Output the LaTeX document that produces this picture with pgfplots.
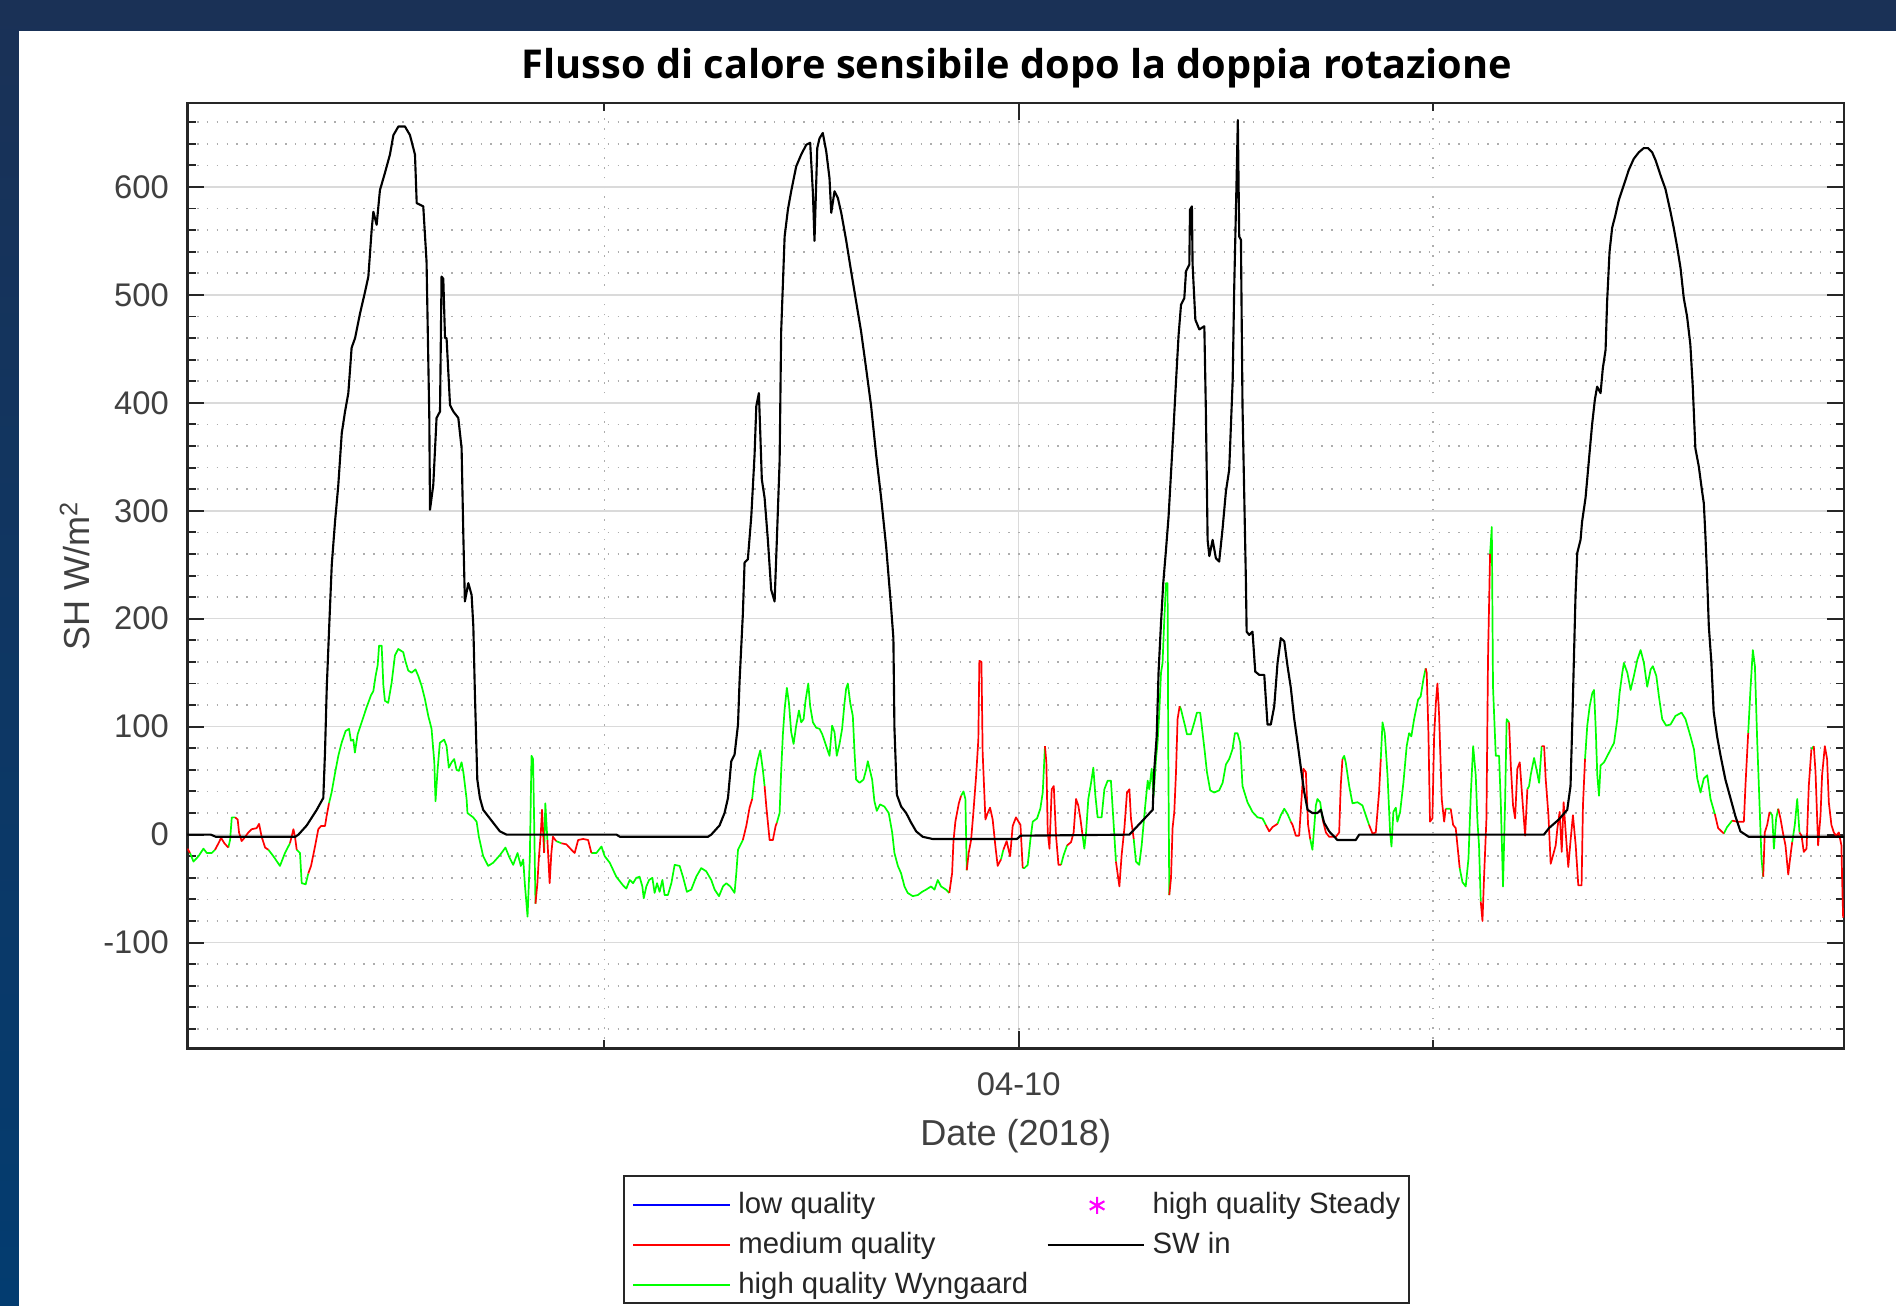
\documentclass[border=0pt]{standalone}
\usepackage{fontspec}
\setmainfont{Liberation Sans}
\newfontfamily\titlefont{Open Sans}
\usepackage{pgfplots}
\pgfplotsset{compat=1.18}
\definecolor{navytop}{HTML}{1A3156}
\definecolor{navybot}{HTML}{033C70}
\definecolor{axgray}{HTML}{262626}
\definecolor{tickgray}{HTML}{404040}
\definecolor{majgrid}{HTML}{DADADA}
\definecolor{mingrid}{HTML}{ADADAD}
\definecolor{mgreen}{RGB}{0,255,0}
\definecolor{mred}{RGB}{255,0,0}
\definecolor{mblue}{RGB}{0,0,255}
\definecolor{mmag}{RGB}{255,0,255}
\pgfplotsset{
  legend image code/.code={\draw[mark repeat=2,mark phase=2,#1] plot coordinates {(0cm,0.7mm) (0.41cm,0.7mm) (0.8cm,0.7mm)};},
}
\begin{document}
\begin{tikzpicture}[x=1cm,y=1cm]
\useasboundingbox (0,0) rectangle (15.68,10.80);
\begin{scope}
\clip (0,0) rectangle (15.68,10.80);
\shade[top color=navytop, bottom color=navybot] (0,0) rectangle (15.68,10.80);
\fill[white] (0.16,0) rectangle (15.68,10.54);
\node[font=\titlefont\bfseries\fontsize{9.35}{11}\selectfont, text=black] at (8.41,10.24) {Flusso di calore sensibile dopo la doppia rotazione};
\begin{axis}[
  at={(1.55cm,2.13cm)}, anchor=south west,
  scale only axis, width=13.70cm, height=7.82cm,
  xmin=-0.15, xmax=95.8, ymin=-198, ymax=678,
  xtick={48}, xticklabels={04-10},
  minor xtick={24,72},
  ytick={-100,0,100,200,300,400,500,600},
  yticklabels={-100,0,100,200,300,400,500,600},
  minor ytick={-180,-160,-140,-120,-80,-60,-40,-20,20,40,60,80,120,140,160,180,220,240,260,280,320,340,360,380,420,440,460,480,520,540,560,580,620,640,660},
  grid=both,
  major grid style={majgrid, line width=0.35pt},
  minor grid style={mingrid, line width=0.4pt, dash pattern=on 0.35pt off 1.95pt},
  tick align=inside,
  major tick length=1.4mm, minor tick length=0.7mm,
  tick style={axgray, line width=0.45pt},
  axis line style={axgray, line width=0.55pt},
  ticklabel style={font=\fontsize{7.7}{9}\selectfont, text=tickgray},
  yticklabel style={xshift=-0.3mm},
  xticklabel style={yshift=-0.8mm},
  xlabel={Date (2018)}, ylabel={SH W/m\textsuperscript{2}},
  label style={font=\fontsize{8.5}{10}\selectfont, text=tickgray},
  xlabel style={at={(axis description cs:0.5,-0.093)}, anchor=center},
  ylabel style={at={(axis description cs:-0.068,0.5)}, anchor=center},
  unbounded coords=jump,
  legend columns=2,
  legend cell align=left,
  legend style={
    at={(axis description cs:0.2628,-0.1343)}, anchor=north west,
    draw=axgray, line width=0.5pt, fill=white,
    font=\fontsize{6.9}{8.3}\selectfont, text=axgray,
    inner xsep=0.7mm, inner ysep=0.7mm,
    row sep=0.8mm,
    nodes={inner sep=0pt, text height=2.4mm, text depth=0.1mm, anchor=base west},
    /tikz/every odd column/.append style={column sep=0.6mm},
    /tikz/every even column/.append style={column sep=1.5mm},
  },
]
% high quality Wyngaard (green)
\addplot[forget plot, mgreen, line width=0.4pt, line join=round] coordinates {
(0.0,-17) (0.20,-25) (0.49,-20) (0.78,-13) (0.97,-17) (1.26,-17) (1.45,-14) (1.45,nan)
(2.22,-12) (2.32,-5) (2.42,16) (2.61,16) (2.61,nan)
(4.54,-14) (4.83,-20) (5.21,-29) (5.50,-17) (5.79,-8) (5.79,nan)
(6.18,-14) (6.37,-17) (6.47,-45) (6.70,-46) (6.85,-36) (6.85,nan)
(8.05,29) (8.20,39) (8.40,57) (8.59,73) (8.78,85) (9.01,96) (9.21,98) (9.32,87) (9.46,88) (9.55,76) (9.71,93) (9.94,104) (10.23,118) (10.48,129) (10.62,133) (10.75,147) (10.87,157) (10.95,175) (11.10,175) (11.20,138) (11.29,124) (11.48,122) (11.68,141) (11.87,166) (12.06,172) (12.35,169) (12.49,160) (12.64,152) (12.83,150) (13.06,153) (13.22,147) (13.41,138) (13.60,126) (13.80,110) (13.99,98) (14.15,67) (14.22,31) (14.34,60) (14.47,85) (14.72,88) (14.86,82) (14.99,62) (15.15,67) (15.30,70) (15.44,60) (15.57,59) (15.73,67) (15.84,57) (16.02,33) (16.07,20) (16.40,16) (16.60,12) (16.73,-2) (16.98,-20) (17.27,-29) (17.56,-26) (17.95,-19) (18.27,-12) (18.47,-20) (18.72,-28) (18.97,-17) (19.16,-29) (19.30,-23) (19.39,-45) (19.55,-76) (19.68,-23) (19.78,73) (19.87,70) (19.93,14) (20.01,-64) (20.01,nan)
(20.51,-17) (20.58,29) (20.70,-5) (20.70,nan)
(21.21,-6) (21.51,-8) (21.51,nan)
(23.25,-17) (23.54,-17) (23.83,-11) (24.02,-20) (24.31,-26) (24.69,-39) (25.08,-47) (25.27,-50) (25.47,-42) (25.66,-45) (25.85,-40) (26.04,-39) (26.20,-48) (26.28,-59) (26.43,-48) (26.59,-42) (26.78,-40) (26.91,-54) (27.05,-45) (27.20,-53) (27.36,-42) (27.49,-56) (27.68,-56) (27.88,-45) (28.07,-28) (28.36,-29) (28.55,-39) (28.78,-53) (29.03,-51) (29.32,-39) (29.61,-31) (29.90,-34) (30.19,-42) (30.39,-51) (30.64,-57) (30.87,-48) (31.06,-45) (31.29,-48) (31.54,-54) (31.64,-36) (31.74,-14) (31.93,-8) (32.02,-5) (32.02,nan)
(32.56,33) (32.70,54) (32.89,70) (33.03,78) (33.18,60) (33.28,45) (33.28,nan)
(33.99,11) (34.15,20) (34.24,59) (34.34,93) (34.44,116) (34.57,136) (34.69,122) (34.82,95) (34.96,84) (35.11,101) (35.27,115) (35.40,104) (35.54,107) (35.65,124) (35.81,140) (35.92,119) (36.08,104) (36.27,99) (36.46,98) (36.62,93) (36.85,82) (37.04,73) (37.19,101) (37.33,95) (37.46,73) (37.62,84) (37.77,98) (37.91,122) (38.00,135) (38.10,140) (38.24,122) (38.39,110) (38.49,76) (38.58,51) (38.78,48) (39.01,51) (39.16,60) (39.26,68) (39.39,59) (39.51,51) (39.64,31) (39.78,22) (39.97,28) (40.22,26) (40.47,20) (40.67,2) (40.80,-17) (41.00,-29) (41.19,-36) (41.38,-48) (41.57,-54) (41.86,-57) (42.15,-56) (42.40,-53) (42.63,-51) (42.92,-48) (43.12,-51) (43.31,-42) (43.50,-48) (43.79,-51) (43.98,-54) (43.98,nan)
(44.66,36) (44.80,40) (44.91,33) (44.99,-33) (44.99,nan)
(46.97,-23) (47.11,-14) (47.11,nan)
(48.23,-31) (48.33,-31) (48.52,-28) (48.68,-4) (48.81,12) (49.06,15) (49.25,24) (49.39,39) (49.52,82) (49.52,nan)
(50.45,-28) (50.60,-19) (50.80,-10) (50.80,nan)
(51.70,-1) (51.80,-13) (51.90,2) (52.03,33) (52.19,48) (52.32,62) (52.44,36) (52.57,16) (52.80,16) (52.96,42) (53.15,50) (53.34,50) (53.50,9) (53.63,-25) (53.63,nan)
(54.66,-4) (54.79,-25) (54.98,-28) (55.12,-10) (55.31,24) (55.47,50) (55.56,42) (55.70,61) (55.81,36) (55.95,70) (56.04,85) (56.14,113) (56.24,150) (56.33,159) (56.43,199) (56.53,233) (56.62,233) (56.66,82) (56.72,-56) (56.72,nan)
(57.32,119) (57.40,116) (57.49,110) (57.63,101) (57.74,93) (57.97,93) (58.17,104) (58.32,113) (58.51,113) (58.65,94) (58.78,76) (58.90,58) (59.09,41) (59.32,39) (59.61,41) (59.81,48) (60.00,65) (60.19,70) (60.38,79) (60.52,94) (60.67,94) (60.83,85) (60.96,45) (61.25,30) (61.54,21) (61.83,16) (62.12,15) (62.31,9) (62.31,nan)
(62.99,10) (63.18,18) (63.38,24) (63.57,19) (63.76,12) (63.76,nan)
(64.88,-4) (65.01,-14) (65.11,6) (65.21,27) (65.30,33) (65.46,30) (65.59,15) (65.59,nan)
(66.75,70) (66.85,73) (66.94,67) (67.14,45) (67.33,29) (67.62,30) (67.91,27) (68.10,18) (68.29,9) (68.29,nan)
(68.97,70) (69.07,104) (69.20,94) (69.36,55) (69.51,2) (69.59,-11) (69.70,21) (69.84,25) (69.93,12) (70.09,21) (70.28,48) (70.47,82) (70.61,94) (70.74,91) (70.90,107) (71.13,125) (71.28,128) (71.44,144) (71.57,154) (71.57,nan)
(72.73,24) (72.83,24) (73.02,24) (73.02,nan)
(73.54,-31) (73.70,-44) (73.89,-48) (74.05,-22) (74.18,36) (74.32,82) (74.47,55) (74.57,12) (74.66,-10) (74.76,-62) (74.76,nan)
(75.30,260) (75.40,285) (75.47,137) (75.63,73) (75.82,73) (75.92,30) (76.05,-48) (76.17,30) (76.26,107) (76.40,104) (76.40,nan)
(77.46,42) (77.56,45) (77.65,55) (77.85,71) (77.98,61) (78.14,48) (78.29,82) (78.29,nan)
(80.80,70) (80.93,101) (81.07,119) (81.22,131) (81.32,134) (81.42,98) (81.51,55) (81.61,36) (81.70,64) (81.90,67) (82.19,76) (82.48,85) (82.67,107) (82.80,131) (82.96,150) (83.05,159) (83.25,150) (83.44,134) (83.63,147) (83.83,162) (84.02,171) (84.21,159) (84.40,137) (84.60,153) (84.73,156) (84.93,147) (85.08,128) (85.27,107) (85.50,101) (85.75,102) (86.04,110) (86.39,113) (86.62,107) (86.91,91) (87.11,79) (87.30,52) (87.49,39) (87.68,52) (87.88,55) (88.07,33) (88.32,19) (88.32,nan)
(88.84,1) (89.03,7) (89.32,13) (89.32,nan)
(90.25,94) (90.39,137) (90.52,171) (90.64,156) (90.77,88) (90.91,27) (91.02,-22) (91.12,-39) (91.12,nan)
(91.49,21) (91.64,18) (91.74,-13) (91.87,15) (91.99,24) (91.99,nan)
(92.80,-7) (92.95,9) (93.09,33) (93.22,2) (93.22,nan)
(93.91,79) (94.05,82)
};
% medium quality (red)
\addplot[forget plot, mred, line width=0.4pt, line join=round] coordinates {
(-0.15,-13) (0.0,-17) (0.0,nan)
(1.45,-14) (1.65,-8) (1.80,-3) (1.99,-8) (2.22,-12) (2.22,nan)
(2.61,16) (2.76,14) (2.84,2) (2.99,-6) (3.15,-3) (3.38,2) (3.57,5) (3.86,6) (4.00,10) (4.15,-2) (4.35,-12) (4.54,-14) (4.54,nan)
(5.79,-8) (5.99,5) (6.08,-2) (6.18,-14) (6.18,nan)
(6.85,-36) (7.01,-29) (7.24,-11) (7.43,5) (7.59,8) (7.82,8) (7.91,17) (8.05,29) (8.05,nan)
(20.01,-64) (20.12,-45) (20.20,-23) (20.32,2) (20.39,23) (20.51,-17) (20.51,nan)
(20.70,-5) (20.83,-45) (20.93,-17) (21.02,-2) (21.21,-6) (21.21,nan)
(21.51,-8) (21.80,-9) (22.09,-14) (22.28,-17) (22.48,-5) (22.77,-4) (23.06,-5) (23.25,-17) (23.25,nan)
(32.02,-5) (32.22,8) (32.41,25) (32.56,33) (32.56,nan)
(33.28,45) (33.38,26) (33.57,-5) (33.76,-5) (33.92,8) (33.99,11) (33.99,nan)
(43.98,-54) (44.14,-36) (44.22,-6) (44.33,12) (44.53,29) (44.66,36) (44.66,nan)
(44.99,-33) (45.10,-17) (45.24,-5) (45.37,20) (45.53,54) (45.66,88) (45.72,161) (45.84,160) (45.91,76) (46.07,14) (46.20,20) (46.34,25) (46.49,14) (46.65,-11) (46.78,-29) (46.97,-23) (46.97,nan)
(47.11,-14) (47.30,-6) (47.50,-20) (47.65,8) (47.84,16) (48.10,9) (48.23,-31) (48.23,nan)
(49.52,82) (49.60,67) (49.68,2) (49.78,-13) (49.91,42) (50.03,45) (50.16,-1) (50.30,-28) (50.45,-28) (50.45,nan)
(50.80,-10) (51.03,-7) (51.18,2) (51.32,33) (51.45,27) (51.57,15) (51.70,-1) (51.70,nan)
(53.63,-25) (53.83,-48) (53.96,-19) (54.12,6) (54.27,39) (54.41,42) (54.50,15) (54.66,-4) (54.66,nan)
(56.72,-56) (56.82,-40) (56.91,6) (57.01,21) (57.11,58) (57.20,107) (57.32,119) (57.32,nan)
(62.31,9) (62.51,3) (62.70,7) (62.99,10) (62.99,nan)
(63.76,12) (63.86,9) (64.05,-1) (64.24,-1) (64.38,33) (64.49,61) (64.63,58) (64.76,9) (64.88,-4) (64.88,nan)
(65.59,15) (65.79,2) (65.98,-2) (66.37,-2) (66.56,2) (66.65,45) (66.75,70) (66.75,nan)
(68.29,9) (68.49,1) (68.68,2) (68.87,39) (68.97,70) (68.97,nan)
(71.57,154) (71.63,150) (71.73,94) (71.82,12) (71.96,15) (72.06,91) (72.16,122) (72.25,140) (72.35,110) (72.50,33) (72.64,12) (72.73,24) (72.73,nan)
(73.02,24) (73.16,9) (73.31,6) (73.41,-10) (73.54,-31) (73.54,nan)
(74.76,-62) (74.86,-80) (74.95,-40) (75.09,15) (75.18,162) (75.30,260) (75.30,nan)
(76.40,104) (76.50,64) (76.63,27) (76.75,15) (76.88,61) (77.02,67) (77.17,33) (77.33,-1) (77.46,42) (77.46,nan)
(78.29,82) (78.43,82) (78.52,52) (78.68,18) (78.81,-27) (78.95,-19) (79.10,-10) (79.20,6) (79.33,21) (79.45,-16) (79.56,30) (79.68,2) (79.83,-30) (79.97,-4) (80.10,18) (80.26,-10) (80.41,-47) (80.60,-47) (80.68,27) (80.80,70) (80.80,nan)
(88.32,19) (88.51,6) (88.84,1) (88.84,nan)
(89.32,13) (89.61,12) (90.00,12) (90.10,48) (90.25,94) (90.25,nan)
(91.12,-39) (91.21,2) (91.35,9) (91.49,21) (91.49,nan)
(91.99,24) (92.12,15) (92.26,2) (92.41,-10) (92.57,-37) (92.70,-19) (92.80,-7) (92.80,nan)
(93.22,2) (93.34,-1) (93.47,-16) (93.63,-13) (93.76,45) (93.91,79) (93.91,nan)
(94.05,82) (94.15,58) (94.30,-10) (94.44,18) (94.53,55) (94.69,82) (94.82,70) (94.92,30) (95.07,9) (95.21,2) (95.34,-1) (95.50,2) (95.65,-10) (95.69,-40) (95.75,-77)
};
% SW in (black)
\addplot[forget plot, black, line width=0.5pt, line join=round] coordinates {
(-0.15,0) (1.2,0) (1.5,-2) (6.1,-2) (6.28,0) (6.76,8.5) (7.34,23) (7.72,34) (7.82,77) (7.92,136) (8.07,196) (8.21,250) (8.40,290) (8.59,324) (8.79,372) (8.98,392) (9.17,409) (9.36,451) (9.56,460) (9.85,483) (10.14,503) (10.33,517) (10.52,560) (10.62,577) (10.81,565) (11.00,597) (11.29,613) (11.58,630) (11.78,648) (12.07,656) (12.45,656) (12.74,648) (13.03,630) (13.13,585) (13.51,582) (13.70,531) (13.86,386) (13.90,301) (14.09,324) (14.28,386) (14.48,392) (14.57,517) (14.67,515) (14.77,460) (14.86,460) (15.06,398) (15.25,392) (15.54,386) (15.73,358) (15.83,278) (15.92,216) (16.12,233) (16.31,222) (16.41,193) (16.50,131) (16.64,51) (16.79,34) (16.98,23) (17.56,11) (17.95,3) (18.33,0) (24.7,0) (24.9,-2) (30.0,-2)
(30.19,0) (30.67,8.5) (30.96,20) (31.16,34) (31.35,68) (31.54,74) (31.74,102) (31.83,142) (32.02,204) (32.12,252) (32.31,255) (32.51,295) (32.70,352) (32.80,397) (32.95,409) (33.03,372) (33.12,329) (33.28,312) (33.47,273) (33.66,227) (33.86,216) (33.99,273) (34.15,346) (34.24,466) (34.44,554) (34.63,579) (34.82,596) (35.11,619) (35.40,630) (35.69,639) (35.92,641) (36.08,594) (36.17,550) (36.33,636) (36.46,645) (36.65,650) (36.85,633) (37.04,608) (37.14,576) (37.33,596) (37.52,590) (37.72,576) (38.00,551) (38.29,522) (38.58,494) (38.87,466) (39.16,432) (39.45,397) (39.74,352) (40.03,312) (40.32,267) (40.61,210) (40.74,182) (40.80,99) (40.94,37) (41.19,26) (41.48,20) (41.77,11) (42.06,3) (42.44,-2) (43.0,-4) (47.9,-4) (48.1,-1)
(54.41,0) (55.76,23) (55.85,60) (55.99,91) (56.10,151) (56.24,196) (56.37,233) (56.53,264) (56.68,295) (56.82,335) (56.95,372) (57.11,420) (57.26,463) (57.40,491) (57.59,497) (57.69,522) (57.88,528) (57.92,579) (58.03,582) (58.07,528) (58.23,477) (58.46,468) (58.75,471) (58.84,392) (58.94,273) (59.04,258) (59.23,273) (59.42,256) (59.61,253) (59.81,284) (60.00,318) (60.19,338) (60.39,420) (60.48,506) (60.62,608) (60.69,662) (60.77,554) (60.87,551) (60.96,398) (61.16,233) (61.20,188) (61.35,185) (61.54,188) (61.70,151) (61.93,148) (62.22,148) (62.41,102) (62.60,102) (62.80,119) (62.99,159) (63.18,182) (63.38,179) (63.57,156) (63.76,136) (63.95,108) (64.15,85) (64.34,62) (64.53,40) (64.73,23) (65.01,20) (65.30,20) (65.50,23) (65.69,11) (65.98,3) (66.46,-5) (67.52,-5) (67.72,0)
(78.42,0) (78.71,6) (79.28,14) (79.77,23) (79.96,45) (80.06,102) (80.15,159) (80.25,222) (80.35,261) (80.54,273) (80.63,290) (80.83,312) (81.02,346) (81.21,380) (81.37,403) (81.50,415) (81.70,409) (81.83,432) (81.99,449) (82.08,494) (82.22,540) (82.37,562) (82.56,574) (82.76,588) (83.05,602) (83.34,616) (83.62,626) (83.91,632) (84.20,636) (84.45,636) (84.69,632) (84.88,625) (85.17,611) (85.46,598) (85.75,577) (85.94,562) (86.13,545) (86.33,525) (86.52,497) (86.71,480) (86.90,454) (87.04,415) (87.19,358) (87.39,341) (87.58,318) (87.68,307) (87.77,278) (87.87,239) (87.97,193) (88.12,159) (88.25,114) (88.45,91) (88.64,74) (88.93,51) (89.22,34) (89.51,17) (89.80,3) (90.28,-2) (95.8,-2)
};
\addlegendimage{mblue, line width=0.5pt}
\addlegendentry{low quality}
\addlegendimage{only marks, mark=asterisk, mmag, mark size=0.7mm, line width=0.5pt}
\addlegendentry{high quality Steady}
\addlegendimage{mred, line width=0.5pt}
\addlegendentry{medium quality}
\addlegendimage{black, line width=0.5pt}
\addlegendentry{SW in}
\addlegendimage{mgreen, line width=0.5pt}
\addlegendentry{high quality Wyngaard}
\end{axis}
\end{scope}
\end{tikzpicture}
\end{document}
